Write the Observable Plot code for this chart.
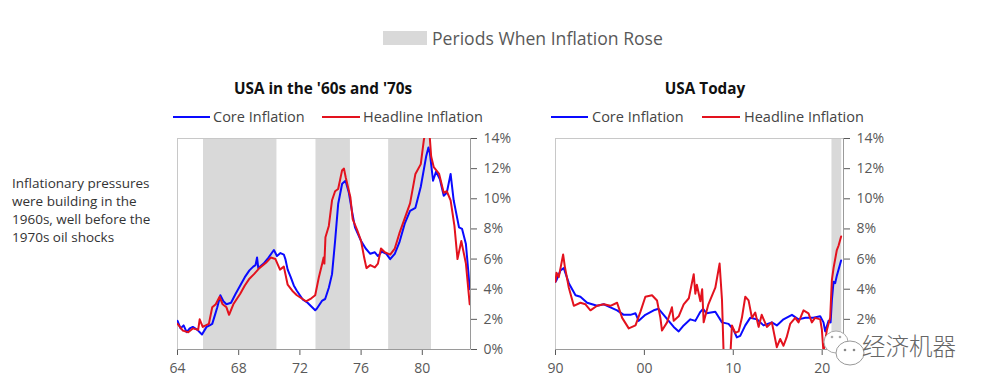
<!DOCTYPE html>
<html>
<head>
<meta charset="utf-8">
<script src="https://cdn.jsdelivr.net/npm/d3@7"></script>
<script src="https://cdn.jsdelivr.net/npm/@observablehq/plot@0.6"></script>
<style>
  html, body { margin: 0; padding: 0; background: #fff; }
  body { width: 990px; height: 387px; position: relative; overflow: hidden; font-family: "Open Sans", "Noto Sans", sans-serif; }
  .abs { position: absolute; white-space: nowrap; }
  .title { font-weight: 700; font-size: 15.3px; color: #111; transform: translateX(-50%); }
  .leg { font-size: 14.5px; color: #444; line-height: 18px; }
  .sw { position: absolute; height: 2px; }
  .note { font-size: 13.5px; color: #333; line-height: 18px; white-space: pre; }
  .top { font-size: 17.6px; color: #595959; }
  .wm { font-family: "Noto Sans CJK SC", sans-serif; font-size: 23.5px; color: #666; font-weight: 300; }
</style>
</head>
<body>
<div id="root"></div>
<script>
// ---------- data ----------
const seriesNames = ["Core Inflation", "Headline Inflation"];
const panelTitles = ["USA in the '60s and '70s", "USA Today"];
const bandLabel = "Periods When Inflation Rose";
const noteLines = ["Inflationary pressures", "were building in the", "1960s, well before the", "1970s oil shocks"];
const watermark = "经济机器";
const yTicksThen = [0, 2, 4, 6, 8, 10, 12, 14];
const yTicksNow = [2, 4, 6, 8, 10, 12, 14]; // 0% hidden under the watermark icon in the reference
const xTicksThen = [1964, 1968, 1972, 1976, 1980];
const xTicksNow = [1990, 2000, 2010, 2020];

// periods when inflation rose [start, end]
const risePeriodsThen = [[1965.7, 1970.5], [1973.05, 1975.3], [1977.8, 1980.6]];
const risePeriodsNow = [[2021.1, 2022.2]];

// core CPI y/y %, 1964-1983 [year, %]
const coreThen = [
  [1964.0,1.9],[1964.2,1.4],[1964.4,1.6],[1964.6,1.15],[1964.8,1.4],[1965.0,1.5],[1965.3,1.3],[1965.6,1.0],[1965.9,1.5],
  [1966.1,1.6],[1966.27,1.7],[1966.45,2.3],[1966.6,2.8],[1966.8,3.6],[1967.0,3.2],[1967.2,3.0],[1967.5,3.1],[1967.8,3.7],
  [1968.1,4.25],[1968.4,4.8],[1968.7,5.25],[1968.95,5.5],[1969.1,5.6],[1969.2,6.1],[1969.28,5.4],[1969.63,5.7],[1969.95,6.1],
  [1970.3,6.6],[1970.5,6.2],[1970.73,6.4],[1970.95,6.3],[1971.05,6.0],[1971.2,5.3],[1971.4,4.8],[1971.6,4.25],[1971.8,3.9],
  [1972.2,3.3],[1972.5,3.1],[1972.8,2.8],[1973.0,2.6],[1973.1,2.7],[1973.46,3.25],[1973.65,3.35],[1973.89,4.1],
  [1974.1,5.0],[1974.3,7.2],[1974.5,9.65],[1974.76,11.0],[1974.98,11.2],[1975.2,10.4],[1975.4,9.2],[1975.6,8.1],
  [1976.0,7.2],[1976.3,6.7],[1976.6,6.35],[1976.9,6.45],[1977.1,6.2],[1977.35,6.5],[1977.65,6.35],[1977.9,6.0],
  [1978.2,6.35],[1978.5,7.1],[1978.85,8.35],[1979.2,9.2],[1979.55,9.4],[1979.9,10.8],[1980.25,12.8],[1980.4,13.4],
  [1980.5,13.0],[1980.7,11.2],[1980.9,11.8],[1981.15,11.3],[1981.4,10.2],[1981.6,10.4],[1981.85,11.65],[1982.05,9.9],
  [1982.4,8.1],[1982.6,8.0],[1982.85,7.0],[1983.0,5.25],[1983.1,4.0]
];
// headline CPI y/y %, 1964-1983
const headlineThen = [
  [1964.0,1.7],[1964.35,1.25],[1964.7,1.15],[1965.0,1.4],[1965.35,1.3],[1965.45,2.0],[1965.65,1.5],[1966.05,1.7],
  [1966.27,2.8],[1966.5,3.0],[1966.75,3.5],[1966.95,3.0],[1967.2,2.8],[1967.37,2.3],[1967.65,3.0],[1968.1,3.7],
  [1968.4,4.25],[1968.7,4.7],[1969.0,5.0],[1969.35,5.4],[1969.78,5.75],[1970.1,6.1],[1970.4,6.0],[1970.7,5.3],
  [1970.95,5.5],[1971.2,4.3],[1971.5,3.9],[1971.8,3.6],[1972.1,3.4],[1972.4,3.2],[1972.75,3.4],[1973.0,3.6],
  [1973.24,4.8],[1973.46,5.7],[1973.55,6.1],[1973.6,5.7],[1973.67,7.45],[1973.89,8.2],[1974.1,9.9],[1974.3,10.5],
  [1974.5,10.65],[1974.76,11.9],[1974.88,12.0],[1975.0,11.4],[1975.3,10.1],[1975.45,8.65],[1975.75,7.9],[1976.0,7.2],
  [1976.2,6.1],[1976.35,5.4],[1976.6,5.6],[1976.9,5.45],[1977.1,5.7],[1977.3,6.7],[1977.55,6.45],[1977.9,6.3],
  [1978.2,6.7],[1978.5,7.7],[1978.85,8.7],[1979.2,9.7],[1979.55,11.65],[1979.9,12.3],[1980.1,13.9],[1980.25,14.7],
  [1980.45,14.6],[1980.58,12.8],[1980.75,12.1],[1981.1,11.65],[1981.4,10.4],[1981.6,10.5],[1981.85,9.9],[1982.1,8.2],
  [1982.3,6.0],[1982.55,7.2],[1982.85,5.7],[1983.1,3.0]
];
// core CPI y/y %, 1990-2022
const coreNow = [
  [1990.0,4.5],[1990.11,4.6],[1990.56,5.25],[1990.93,5.4],[1991.5,4.4],[1992.25,3.6],[1992.8,3.5],[1993.56,3.1],
  [1994.68,2.9],[1995.43,3.0],[1996.18,2.8],[1996.93,2.6],[1997.68,2.3],[1998.43,2.3],[1999.0,2.4],[1999.36,1.9],
  [2000.11,2.3],[2001.05,2.6],[2001.6,2.7],[2002.17,2.3],[2002.73,1.9],[2003.3,1.5],[2003.86,1.2],[2004.42,1.6],
  [2005.17,2.0],[2005.73,1.9],[2006.3,2.5],[2006.6,2.7],[2007.0,2.4],[2007.98,2.5],[2008.73,1.8],[2009.47,1.7],
  [2010.03,1.3],[2010.4,0.8],[2010.78,0.9],[2011.35,1.6],[2011.9,2.1],[2012.66,2.0],[2013.4,1.6],[2014.34,1.8],
  [2014.9,1.6],[2015.65,2.0],[2016.6,2.3],[2017.34,2.0],[2018.1,2.1],[2019.0,2.1],[2019.78,2.2],[2020.15,1.8],
  [2020.34,1.2],[2020.72,1.9],[2020.95,1.8],[2021.09,3.25],[2021.28,4.5],[2021.46,4.4],[2021.65,4.9],[2022.13,5.9]
];
// headline CPI y/y %, 1990-2022
const headlineNow = [
  [1990.0,4.5],[1990.11,5.1],[1990.37,4.8],[1990.86,6.3],[1991.05,5.5],[1991.5,4.1],[1992.06,2.9],[1992.8,3.1],
  [1993.37,3.0],[1993.93,2.6],[1994.68,2.9],[1995.43,3.0],[1996.18,2.9],[1996.93,3.1],[1997.5,2.1],[1998.24,1.4],
  [1999.0,1.6],[1999.55,2.5],[2000.11,3.5],[2000.86,3.6],[2001.42,3.25],[2001.8,2.1],[2001.98,1.26],[2002.55,1.8],
  [2003.1,2.8],[2003.3,1.9],[2003.86,2.2],[2004.42,3.0],[2005.0,3.4],[2005.55,5.0],[2005.73,3.7],[2005.9,4.3],
  [2006.3,3.2],[2006.5,4.0],[2006.67,1.8],[2007.2,3.0],[2007.98,4.1],[2008.46,5.7],[2008.73,3.3],[2008.9,0.0],
  [2009.4,-2.0],[2009.66,-0.5],[2009.85,1.6],[2010.22,1.1],[2010.6,1.2],[2010.97,2.1],[2011.35,3.5],[2011.72,3.26],
  [2012.1,2.1],[2012.47,2.45],[2012.85,1.5],[2013.2,2.3],[2013.78,1.5],[2014.34,1.8],[2014.9,0.15],[2015.28,0.7],
  [2015.65,0.25],[2016.0,0.8],[2016.4,1.7],[2016.97,2.1],[2017.34,1.8],[2017.9,2.6],[2018.46,2.4],[2018.84,1.8],
  [2019.2,2.1],[2019.78,2.0],[2019.97,1.3],[2020.15,-0.2],[2020.53,1.3],[2020.9,2.1],[2021.09,4.6],[2021.28,5.4],
  [2021.65,6.6],[2021.85,6.9],[2022.13,7.5]
];

// ---------- build ----------
const BLUE = "#0a0aff", RED = "#e3121e", SHADE = "#d9d9d9";
const toRows = (arr) => arr.map(([year, value]) => ({year, value}));
const toBands = (arr) => arr.map(([start, end]) => ({start, end}));

function panel({domain, ticks, yTicks, core, head, bands, width}) {
  return Plot.plot({
    width, height: 253,
    marginLeft: 20, marginRight: 50, marginTop: 10, marginBottom: 32,
    style: {fontFamily: "'Open Sans', sans-serif", fontSize: "14px", color: "#595959", background: "transparent", overflow: "visible"},
    x: {domain, ticks, tickFormat: d => String(d % 100).padStart(2, "0"), tickSize: 6, tickPadding: 8, label: null},
    y: {domain: [0, 14], ticks: yTicks, tickFormat: d => d + "%", axis: "right", tickSize: 6, tickPadding: 7, label: null},
    marks: [
      Plot.rect(toBands(bands), {x1: "start", x2: "end", y1: 0, y2: 14, fill: SHADE}),
      Plot.frame({stroke: "#c8c8c8"}),
      Plot.ruleY([0], {stroke: "#9a9a9a"}),
      Plot.ruleX([domain[1]], {stroke: "#9a9a9a"}),
      Plot.line(toRows(core), {x: "year", y: "value", stroke: BLUE, strokeWidth: 2, clip: true}),
      Plot.line(toRows(head), {x: "year", y: "value", stroke: RED, strokeWidth: 2, clip: true})
    ]
  });
}

const root = document.getElementById("root");
function place(el, left, top) { el.style.position = "absolute"; el.style.left = left + "px"; el.style.top = top + "px"; root.appendChild(el); return el; }
function text(cls, str, left, top) { const d = document.createElement("div"); d.className = "abs " + cls; d.textContent = str; return place(d, left, top); }
function swatch(color, left, top, w) { const d = document.createElement("div"); d.className = "sw"; d.style.background = color; d.style.width = w + "px"; return place(d, left, top); }

place(panel({domain: [1964, 1983.15], ticks: xTicksThen, yTicks: yTicksThen, core: coreThen, head: headlineThen, bands: risePeriodsThen, width: 363}), 157, 128);
place(panel({domain: [1990, 2022.4], ticks: xTicksNow, yTicks: yTicksNow, core: coreNow, head: headlineNow, bands: risePeriodsNow, width: 358}), 535, 128);

// top legend
const sq = document.createElement("div"); sq.style.width = "44px"; sq.style.height = "14px"; sq.style.background = SHADE; place(sq, 383, 31);
text("top", bandLabel, 432, 26);

// titles
text("title", panelTitles[0], 323, 78);
text("title", panelTitles[1], 705, 78);

// series legends
swatch(BLUE, 173, 116, 37); text("leg", seriesNames[0], 213, 108);
swatch(RED, 322, 116, 38); text("leg", seriesNames[1], 363, 108);
swatch(BLUE, 551, 116, 37); text("leg", seriesNames[0], 592, 108);
swatch(RED, 702, 116, 38); text("leg", seriesNames[1], 744, 108);

// note
text("note", noteLines.join("\n"), 12, 174);

// watermark (icon + text)
const ns = "http://www.w3.org/2000/svg";
const icon = document.createElementNS(ns, "svg");
icon.setAttribute("width", "50"); icon.setAttribute("height", "40");
icon.innerHTML =
  '<ellipse cx="18" cy="14" rx="12" ry="11" fill="#fff" stroke="#aaa" stroke-width="1"/>' +
  '<circle cx="14" cy="9" r="1.3" fill="#aaa"/><circle cx="22" cy="9" r="1.3" fill="#aaa"/>' +
  '<ellipse cx="32" cy="25" rx="14" ry="12" fill="#fff" stroke="#999" stroke-width="1"/>' +
  '<circle cx="27" cy="22" r="1.3" fill="#888"/><circle cx="36" cy="22" r="1.3" fill="#888"/>';
place(icon, 818, 328);
text("wm", watermark, 862, 328);
</script>
</body>
</html>
